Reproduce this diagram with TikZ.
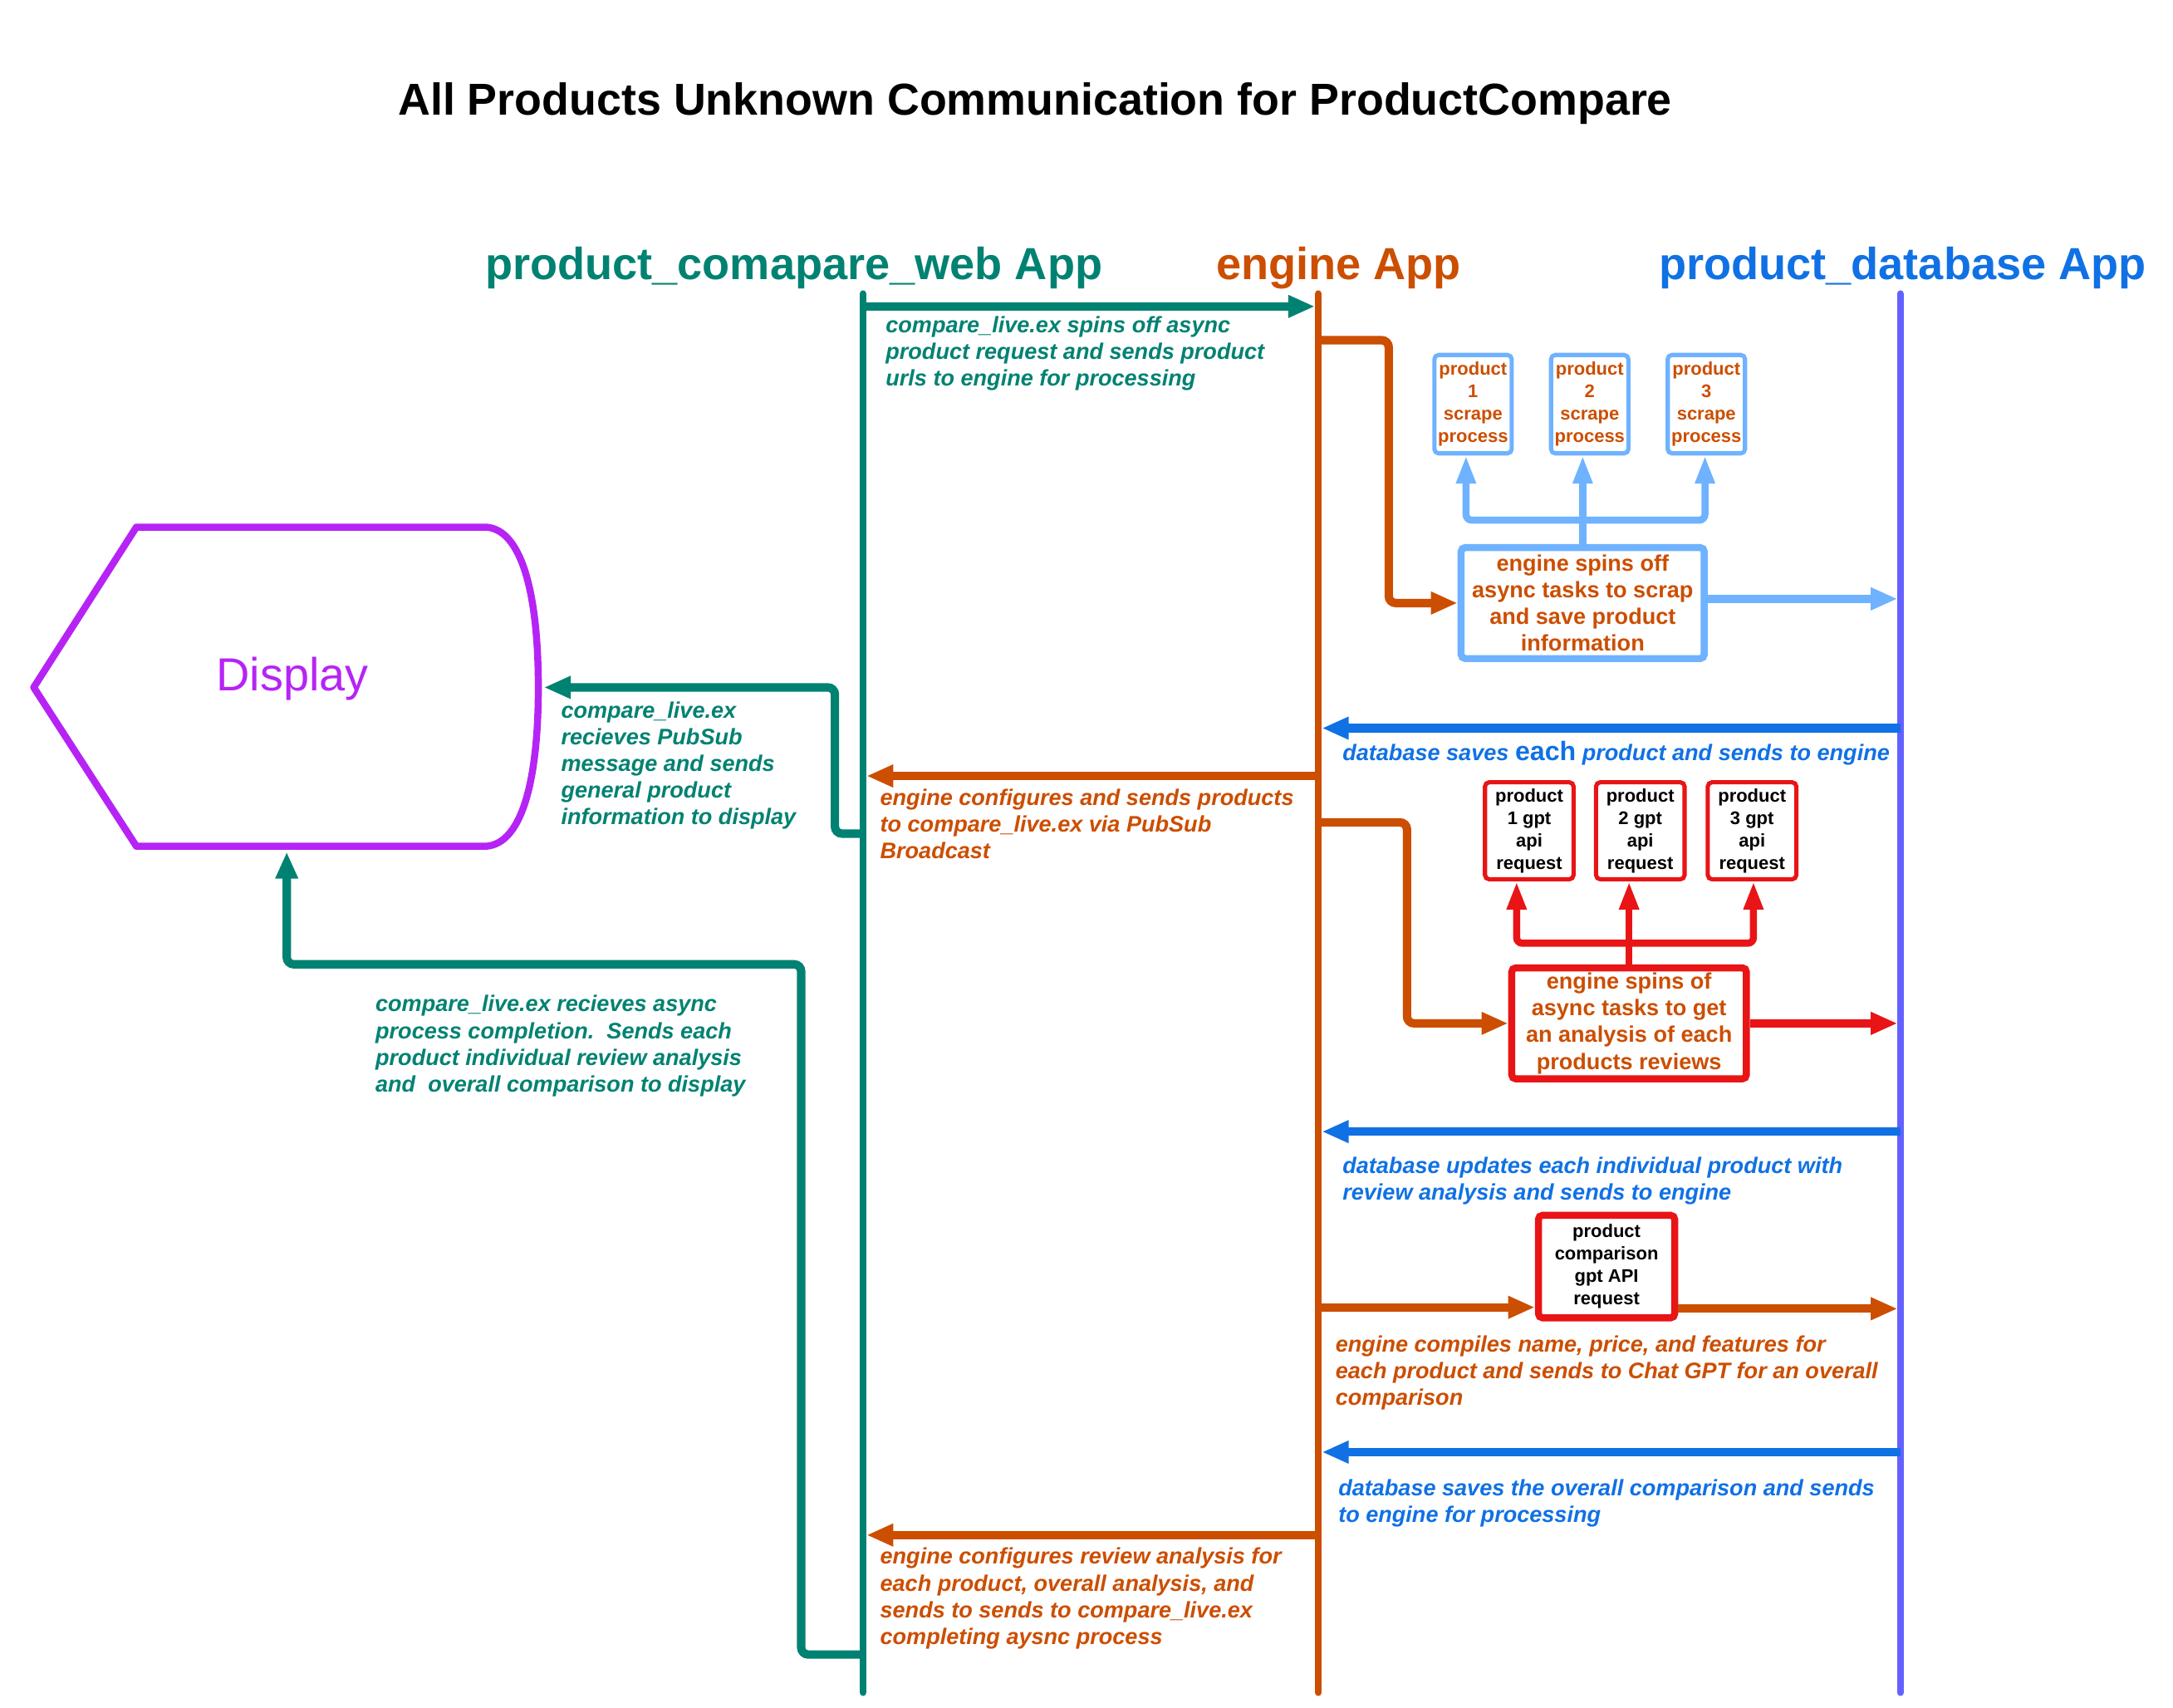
\documentclass[tikz,border=0pt]{standalone}
\usepackage{fontspec}
\setmainfont{Liberation Sans}
\usetikzlibrary{arrows.meta}
\definecolor{cgreen}{RGB}{0,130,114}
\definecolor{corange}{RGB}{204,78,0}
\definecolor{cblue}{RGB}{16,113,229}
\definecolor{cpurple}{RGB}{99,97,255}
\definecolor{clblue}{RGB}{111,178,255}
\definecolor{cred}{RGB}{232,20,22}
\definecolor{cdisp}{RGB}{182,36,245}
\begin{document}
\begin{tikzpicture}[x=1pt,y=-1pt,
  lifeline/.style={line width=5pt, line cap=round},
  msg/.style={line width=6pt, -{Triangle[length=19pt,width=15pt]}},
  conn/.style={line width=6pt, rounded corners=5pt, -{Triangle[length=19pt,width=15pt]}},
  branch/.style={line width=5pt, rounded corners=4pt},
  thin tip/.style={-{Triangle[length=20pt,width=13pt]}},
  both tip/.style={{Triangle[length=20pt,width=13pt]}-{Triangle[length=20pt,width=13pt]}},
  lbl/.style={anchor=north west, inner sep=0pt, align=left, font=\fontsize{16}{19}\selectfont\bfseries\itshape},
  hdr/.style={anchor=base west, inner sep=0pt, font=\fontsize{32}{36}\selectfont\bfseries},
  bigbox/.style={draw, line width=5pt, rounded corners=3pt, inner sep=0pt, align=center, fill=white,
     text=corange, font=\fontsize{16}{19}\selectfont\bfseries},
  smallbox/.style={draw, line width=3pt, rounded corners=3pt, inner sep=0pt, align=center, fill=white,
     font=\fontsize{13}{16}\selectfont\bfseries, minimum height=69pt},
]
\fill[white] (0,0) rectangle (1546,1215);
\useasboundingbox (0,0) rectangle (1546,1215);

% title and headers
\node[hdr, font=\fontsize{31.8}{36}\selectfont\bfseries] (title) at (283,82) {All Products Unknown Communication for ProductCompare};
\node[hdr, text=cgreen] (hweb) at (345,199) {product\_comapare\_web App};
\node[hdr, text=corange] (heng) at (865,199) {engine App};
\node[hdr, text=cblue] (hdb) at (1180,199) {product\_database App};

% lifelines
\coordinate (wtop) at (614,209); \coordinate (wbot) at (614,1204);
\coordinate (etop) at (938,209); \coordinate (ebot) at (938,1204);
\coordinate (dtop) at (1352,209); \coordinate (dbot) at (1352,1204);
\draw[lifeline, cgreen] (wtop) -- (wbot);
\draw[lifeline, corange] (etop) -- (ebot);
\draw[lifeline, cpurple] (dtop) -- (dbot);

% display shape
\draw[cdisp, line width=5pt, line join=round]
  (24,489) -- (97,375) -- (346,375) .. controls (372,377) and (383,425) .. (383,489)
  .. controls (383,553) and (372,600) .. (346,602) -- (97,602) -- cycle;
\node[text=cdisp, font=\fontsize{33}{36}\selectfont] (disp) at (208,483) {Display};
\coordinate (dispR) at (387,489);
\coordinate (dispB) at (204,606);

% boxes
\node[bigbox, draw=clblue, minimum width=173pt, minimum height=79pt] (bbox) at (1126,429)
  {engine spins off\\async tasks to scrap\\and save product\\information};
\node[smallbox, draw=clblue, text=corange, minimum width=55pt, minimum height=70pt] (s1) at (1048,287.5) {product\\1\\scrape\\process};
\node[smallbox, draw=clblue, text=corange, minimum width=55pt, minimum height=70pt] (s2) at (1131,287.5) {product\\2\\scrape\\process};
\node[smallbox, draw=clblue, text=corange, minimum width=55pt, minimum height=70pt] (s3) at (1214,287.5) {product\\3\\scrape\\process};

\node[bigbox, draw=cred, minimum width=167pt, minimum height=79pt] (rbox) at (1159,728)
  {engine spins of\\async tasks to get\\an analysis of each\\products reviews};
\node[smallbox, draw=cred, minimum width=63pt] (g1) at (1088,591) {product\\1 gpt\\api\\request};
\node[smallbox, draw=cred, minimum width=63pt] (g2) at (1167,591) {product\\2 gpt\\api\\request};
\node[smallbox, draw=cred, minimum width=63pt] (g3) at (1246.5,591) {product\\3 gpt\\api\\request};

\node[smallbox, draw=cred, line width=5pt, minimum width=97pt, minimum height=73pt] (cbox) at (1143,901)
  {product\\comparison\\gpt API\\request};

% connector points
\coordinate (w1) at (614,218); \coordinate (e1t) at (935.5,218);
\coordinate (e1) at (936,242);
\coordinate (p1) at (1350,426);
\coordinate (d2) at (1352,518); \coordinate (e2t) at (940.5,518);
\coordinate (e3) at (938,552); \coordinate (w3t) at (616.5,552);
\coordinate (w4) at (616,593);
\coordinate (e4) at (936,585);
\coordinate (p4) at (1350,728);
\coordinate (d5) at (1352,805); \coordinate (e5t) at (940.5,805);
\coordinate (e6) at (936,930);
\coordinate (p6) at (1350,931);
\coordinate (d7) at (1352,1033); \coordinate (e7t) at (940.5,1033);
\coordinate (e8) at (938,1092); \coordinate (w8t) at (616.5,1092);
\coordinate (w9) at (616,1177);
\coordinate (wk) at (570,686);
\coordinate (bj) at (1126,370);
\coordinate (rj) at (1159,671);

% messages
\draw[msg, cgreen] (w1) -- (e1t);
\draw[conn, corange] (e1) -- ++(52,0) |- (bbox.west);
\draw[branch, clblue, both tip] ([xshift=-5pt]s1.south) |- (bj) -| ([xshift=-1pt]s3.south);
\draw[branch, clblue, thin tip] (bbox.north) -- (bbox.north |- s2.south);
\draw[msg, clblue] (bbox.east |- p1) -- (p1);
\draw[msg, cblue] (d2) -- (e2t);
\draw[msg, corange] (e3) -- (w3t);
\draw[conn, cgreen] (w4) -- ++(-22,0) |- (dispR);
\draw[conn, corange] (e4) -- ++(65,0) |- (rbox.west);
\draw[branch, cred, both tip] ([xshift=-9pt]g1.south) |- (rj) -| ([xshift=1pt]g3.south);
\draw[branch, cred, thin tip] (rbox.north) -- (rbox.north |- g2.south);
\draw[msg, cred] (rbox.east) -- (p4);
\draw[msg, cblue] (d5) -- (e5t);
\draw[msg, corange] (e6) -- (e6 -| cbox.west);
\draw[msg, corange] (cbox.east |- p6) -- (p6);
\draw[msg, cblue] (d7) -- (e7t);
\draw[msg, corange] (e8) -- (w8t);
\draw[conn, cgreen] (w9) -| (wk) -| (dispB);

% labels
\node[lbl, text=cgreen] (l1) at (630,225) {compare\_live.ex spins off async\\product request and sends product\\urls to engine for processing};
\node[lbl, text=cblue] (l2) at (955,527) {database saves {\fontsize{19}{19}\selectfont\upshape each} product and sends to engine};
\node[lbl, text=corange] (l3) at (626,561) {engine configures and sends products\\to compare\_live.ex via PubSub\\Broadcast};
\node[lbl, text=cgreen] (l4) at (399,499) {compare\_live.ex\\recieves PubSub\\message and sends\\general product\\information to display};
\node[lbl, text=cblue] (l5) at (955,823) {database updates each individual product with\\review analysis and sends to engine};
\node[lbl, text=corange] (l6) at (950,950) {engine compiles name, price, and features for\\each product and sends to Chat GPT for an overall\\comparison};
\node[lbl, text=cblue] (l7) at (952,1052) {database saves the overall comparison and sends\\to engine for processing};
\node[lbl, text=corange] (l8) at (626,1101) {engine configures review analysis for\\each product, overall analysis, and\\sends to sends to compare\_live.ex\\completing aysnc process};
\node[lbl, text=cgreen] (l9) at (267,708) {compare\_live.ex recieves async\\process completion.\ \ Sends each\\product individual review analysis\\and\ \ overall comparison to display};
\end{tikzpicture}
\end{document}
